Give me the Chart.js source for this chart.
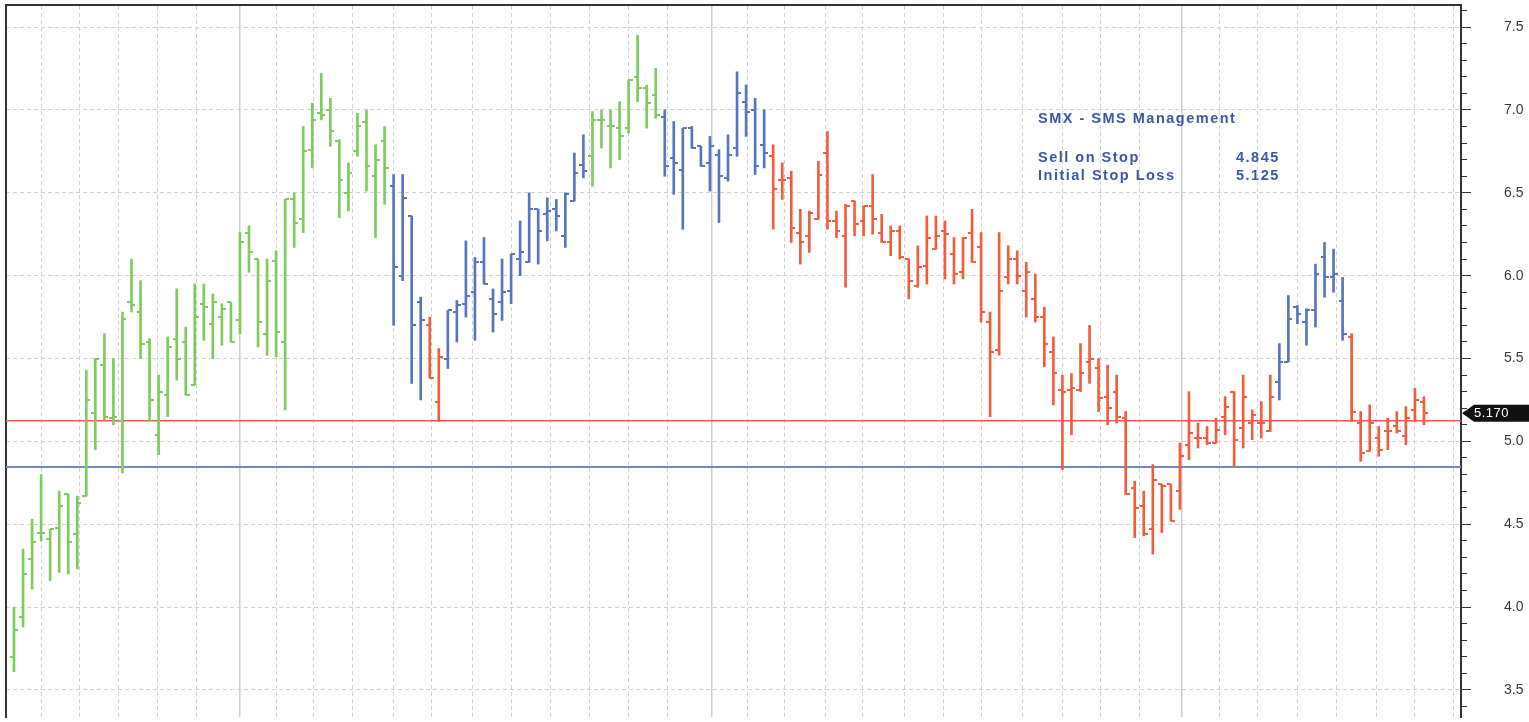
<!DOCTYPE html>
<html>
<head>
<meta charset="utf-8">
<title>SMX - SMS Management</title>
<script src="https://cdn.jsdelivr.net/npm/chart.js@4.4.1/dist/chart.umd.min.js"></script>
<style>
  html, body { margin: 0; padding: 0; background: #fff; overflow: hidden; }
  #wrap { width: 1529px; height: 722px; }
</style>
</head>
<body>
<div id="wrap"><canvas id="chart" width="1529" height="722"></canvas></div>
<script>
// Daily OHLC bars (index 0 = first visible bar)
const opens = [
  3.70, 3.94, 4.29, 4.45, 4.41, 4.48, 4.68, 4.44, 4.67, 5.17,
  5.46, 5.14, 5.12, 5.84, 5.78, 5.60, 5.04, 5.28, 5.62, 5.60,
  5.34, 5.83, 5.71, 5.75, 5.84, 5.73, 6.26, 6.10, 5.65, 6.09,
  5.60, 6.46, 6.34, 6.76, 6.98, 7.00, 6.81, 6.50, 6.75, 6.93,
  6.60, 6.81, 6.54, 6.00, 6.36, 5.84, 5.70, 5.24, 5.50, 5.78,
  5.83, 5.90, 6.08, 5.86, 5.84, 5.91, 6.10, 6.08, 6.40, 6.37,
  6.40, 6.24, 6.45, 6.67, 6.72, 6.94, 6.90, 6.89, 6.89, 7.20,
  7.13, 7.09, 6.96, 6.71, 6.64, 6.89, 6.78, 6.68, 6.73, 6.59,
  6.77, 7.05, 7.00, 6.79, 6.72, 6.58, 6.59, 6.26, 6.24, 6.34,
  6.74, 6.33, 6.24, 6.45, 6.33, 6.42, 6.26, 6.20, 6.27, 6.10,
  5.94, 6.06, 6.16, 6.27, 6.13, 6.02, 6.26, 6.17, 5.72, 5.55,
  5.99, 6.10, 5.91, 5.86, 5.75, 5.54, 5.31, 5.31, 5.31, 5.48,
  5.44, 5.27, 5.30, 5.14, 4.72, 4.61, 4.47, 4.74, 4.74, 4.70,
  4.98, 5.02, 5.02, 4.99, 5.15, 5.30, 5.08, 5.11, 5.11, 5.06,
  5.36, 5.48, 5.81, 5.72, 5.79, 6.11, 5.99, 5.85, 5.63, 5.11,
  4.94, 5.02, 5.06, 5.09, 5.03, 5.19, 5.24
];
const highs = [
  4.00, 4.35, 4.53, 4.80, 4.47, 4.70, 4.68, 4.67, 5.43, 5.50,
  5.65, 5.50, 5.78, 6.10, 5.97, 5.62, 5.40, 5.63, 5.92, 5.69,
  5.95, 5.95, 5.89, 5.83, 5.84, 6.26, 6.30, 6.10, 6.10, 6.15,
  6.46, 6.50, 6.90, 7.04, 7.22, 7.07, 6.82, 6.68, 6.98, 7.00,
  6.79, 6.90, 6.61, 6.61, 6.36, 5.87, 5.75, 5.56, 5.79, 5.85,
  6.21, 6.11, 6.23, 5.92, 6.10, 6.13, 6.33, 6.50, 6.40, 6.47,
  6.46, 6.50, 6.74, 6.85, 6.99, 7.00, 7.00, 7.05, 7.18, 7.45,
  7.15, 7.25, 7.00, 6.93, 6.89, 6.90, 6.78, 6.84, 6.76, 6.85,
  7.23, 7.15, 7.07, 7.00, 6.79, 6.68, 6.63, 6.40, 6.39, 6.69,
  6.87, 6.39, 6.43, 6.45, 6.42, 6.61, 6.37, 6.30, 6.30, 6.10,
  6.18, 6.36, 6.36, 6.33, 6.23, 6.23, 6.40, 6.26, 5.78, 6.26,
  6.18, 6.15, 6.08, 6.01, 5.81, 5.63, 5.40, 5.41, 5.59, 5.70,
  5.50, 5.46, 5.40, 5.18, 4.76, 4.70, 4.86, 4.74, 4.74, 4.99,
  5.30, 5.11, 5.09, 5.14, 5.27, 5.30, 5.40, 5.19, 5.24, 5.40,
  5.59, 5.88, 5.82, 5.80, 6.07, 6.20, 6.16, 5.99, 5.65, 5.18,
  5.22, 5.09, 5.14, 5.18, 5.21, 5.32, 5.27
];
const lows = [
  3.61, 3.88, 4.11, 4.40, 4.16, 4.21, 4.20, 4.23, 4.67, 4.95,
  5.13, 5.10, 4.81, 5.78, 5.50, 5.12, 4.92, 5.15, 5.37, 5.28,
  5.34, 5.61, 5.50, 5.58, 5.60, 5.65, 6.02, 5.57, 5.52, 5.51,
  5.19, 6.17, 6.26, 6.65, 6.94, 6.78, 6.35, 6.39, 6.72, 6.51,
  6.23, 6.43, 5.70, 5.97, 5.35, 5.25, 5.38, 5.12, 5.44, 5.60,
  5.75, 5.61, 5.95, 5.66, 5.73, 5.83, 6.00, 6.08, 6.07, 6.21,
  6.27, 6.17, 6.45, 6.59, 6.54, 6.77, 6.65, 6.70, 6.86, 7.05,
  6.89, 6.95, 6.60, 6.49, 6.28, 6.77, 6.66, 6.51, 6.32, 6.57,
  6.72, 6.84, 6.61, 6.65, 6.28, 6.46, 6.20, 6.07, 6.14, 6.34,
  6.28, 6.23, 5.93, 6.24, 6.24, 6.25, 6.20, 6.12, 6.10, 5.86,
  5.93, 5.95, 6.16, 5.98, 5.95, 5.98, 6.08, 5.72, 5.15, 5.52,
  5.95, 5.95, 5.75, 5.72, 5.45, 5.22, 4.83, 5.04, 5.30, 5.35,
  5.18, 5.10, 5.11, 4.68, 4.42, 4.43, 4.32, 4.45, 4.52, 4.59,
  4.89, 4.96, 4.98, 4.99, 5.04, 4.85, 4.96, 5.01, 5.02, 5.06,
  5.25, 5.48, 5.71, 5.58, 5.69, 5.87, 5.90, 5.61, 5.12, 4.88,
  4.94, 4.91, 4.95, 5.05, 4.98, 5.12, 5.10
];
const closes = [
  3.86, 4.20, 4.39, 4.45, 4.47, 4.61, 4.39, 4.63, 5.25, 5.50,
  5.15, 5.15, 5.74, 5.82, 5.59, 5.25, 5.30, 5.57, 5.50, 5.28,
  5.75, 5.81, 5.84, 5.80, 5.60, 6.20, 6.14, 5.72, 5.97, 5.66,
  6.46, 6.32, 6.75, 6.94, 6.97, 6.87, 6.58, 6.62, 6.90, 6.66,
  6.70, 6.65, 6.05, 6.47, 5.70, 5.73, 5.38, 5.51, 5.79, 5.82,
  5.88, 6.08, 5.95, 5.77, 5.90, 6.13, 6.14, 6.40, 6.27, 6.39,
  6.36, 6.49, 6.62, 6.63, 6.94, 6.94, 6.90, 6.84, 7.18, 7.13,
  7.04, 6.97, 6.66, 6.68, 6.89, 6.77, 6.66, 6.78, 6.60, 6.73,
  7.10, 6.99, 6.66, 6.74, 6.52, 6.58, 6.29, 6.20, 6.38, 6.61,
  6.33, 6.27, 6.42, 6.31, 6.42, 6.34, 6.20, 6.27, 6.11, 5.97,
  6.05, 6.23, 6.24, 6.25, 6.01, 6.23, 6.08, 5.78, 5.54, 5.91,
  6.10, 6.00, 6.02, 5.75, 5.59, 5.41, 5.30, 5.32, 5.41, 5.50,
  5.26, 5.20, 5.15, 4.68, 4.60, 4.44, 4.77, 4.73, 4.52, 4.91,
  5.05, 5.02, 4.99, 5.07, 5.21, 5.01, 5.27, 5.16, 5.11, 5.27,
  5.48, 5.74, 5.77, 5.79, 6.01, 5.99, 6.01, 5.65, 5.18, 4.93,
  5.11, 4.95, 5.06, 5.06, 5.14, 5.25, 5.17
];

// colour runs of the bars: [number of bars, state]
const trendRuns = [[42, 'buy'], [4, 'hold'], [2, 'sell'], [16, 'hold'], [8, 'buy'],
                   [12, 'hold'], [56, 'sell'], [8, 'hold'], [9, 'sell']];

const sellOnStop = 4.845;
const initialStopLoss = 5.125;
const lastPrice = 5.170;

// right axis: minor ticks every 0.1, labels on the half points
const yTickValues = [3.4, 3.5, 3.6, 3.7, 3.8, 3.9, 4.0, 4.1, 4.2, 4.3, 4.4, 4.5, 4.6, 4.7, 4.8, 4.9,
                     5.0, 5.1, 5.2, 5.3, 5.4, 5.5, 5.6, 5.7, 5.8, 5.9, 6.0, 6.1, 6.2, 6.3, 6.4, 6.5,
                     6.6, 6.7, 6.8, 6.9, 7.0, 7.1, 7.2, 7.3, 7.4, 7.5, 7.6];
const yTickLabels = ['3.5', '4.0', '4.5', '5.0', '5.5', '6.0', '6.5', '7.0', '7.5'];

// vertical grid lines (in bar units); the solid ones mark period breaks
const xGridLines = [3.0, 7.2, 11.6, 15.9, 20.2, 25.0, 29.0, 33.1, 37.5, 42.0, 46.2, 50.7,
                    55.1, 59.4, 63.7, 68.0, 72.3, 77.2, 81.2, 85.2, 89.8, 93.9, 98.5, 102.8,
                    107.1, 111.6, 116.0, 120.2, 124.5, 129.2, 133.4, 137.6, 142.0, 146.3,
                    150.8, 155.0, 159.3];
const xPeriodLines = [25.0, 77.2, 129.2];

const X_MIN = -0.885, X_MAX = 160.1;
const Y_MIN = 3.337, Y_MAX = 7.633;

const COLORS = { buy: '#80CB5F', hold: '#5A75C0', sell: '#F25D3E' };

const barState = [];
trendRuns.forEach(([n, s]) => { for (let k = 0; k < n; k++) barState.push(s); });

function tickImage(color, side) {
    const c = document.createElement('canvas');
    c.width = 8; c.height = 2;
    const g = c.getContext('2d');
    g.fillStyle = color;
    g.fillRect(side === 'open' ? 0 : 4, 0, 4, 2);
    return c;
}
const openImg = {}, closeImg = {};
Object.keys(COLORS).forEach(k => {
    openImg[k] = tickImage(COLORS[k], 'open');
    closeImg[k] = tickImage(COLORS[k], 'close');
});

const isMajor = v => Math.abs(v * 2 - Math.round(v * 2)) < 1e-6;
const isPeriod = v => xPeriodLines.some(p => Math.abs(p - v) < 1e-6);

// notes + last price tag
const notesPlugin = {
    id: 'notes',
    afterDraw(chart) {
        const ctx = chart.ctx;
        const area = chart.chartArea;
        ctx.save();
        ctx.fillStyle = '#3B57A8';
        ctx.font = 'bold 14.5px "Liberation Sans", Arial, sans-serif';
        ctx.letterSpacing = '1.5px';
        ctx.textBaseline = 'middle';
        ctx.fillText('SMX - SMS Management', 1038, 119);
        ctx.fillText('Sell on Stop', 1038, 158);
        ctx.fillText(sellOnStop.toFixed(3), 1236, 158);
        ctx.fillText('Initial Stop Loss', 1038, 176);
        ctx.fillText(initialStopLoss.toFixed(3), 1236, 176);
        ctx.restore();

        // price tag on the right axis
        const y = chart.scales.y.getPixelForValue(lastPrice);
        const x0 = area.right + 1;
        ctx.save();
        ctx.fillStyle = '#111';
        ctx.beginPath();
        ctx.moveTo(x0, y);
        ctx.lineTo(x0 + 12, y - 8.5);
        ctx.lineTo(chart.width, y - 8.5);
        ctx.lineTo(chart.width, y + 8.5);
        ctx.lineTo(x0 + 12, y + 8.5);
        ctx.closePath();
        ctx.fill();
        ctx.fillStyle = '#fff';
        ctx.font = '13px "Liberation Sans", Arial, sans-serif';
        ctx.letterSpacing = '0.5px';
        ctx.textBaseline = 'middle';
        ctx.fillText(lastPrice.toFixed(3), x0 + 12, y + 0.5);
        ctx.restore();
    }
};

new Chart(document.getElementById('chart'), {
    type: 'bar',
    data: {
        datasets: [
            {
                type: 'line', label: 'Initial Stop Loss', yAxisID: 'y',
                data: [{ x: X_MIN, y: initialStopLoss }, { x: X_MAX, y: initialStopLoss }],
                borderColor: '#EE5858', borderWidth: 1.5, pointRadius: 0, order: 4
            },
            {
                type: 'line', label: 'Sell on Stop', yAxisID: 'y',
                data: [{ x: X_MIN, y: sellOnStop }, { x: X_MAX, y: sellOnStop }],
                borderColor: '#7188C6', borderWidth: 2, pointRadius: 0, order: 4
            },
            {
                type: 'bar', label: 'Range', yAxisID: 'y',
                data: highs.map((h, i) => ({ x: i, y: [lows[i], h] })),
                backgroundColor: barState.map(s => COLORS[s]),
                borderWidth: 0, barThickness: 2, grouped: false, order: 3
            },
            {
                type: 'line', label: 'Open', showLine: false, yAxisID: 'y',
                data: opens.map((o, i) => ({ x: i, y: o })),
                pointStyle: ctx => ctx.dataIndex === undefined ? 'line' : openImg[barState[ctx.dataIndex]],
                pointRadius: 4, order: 2
            },
            {
                type: 'line', label: 'Close', showLine: false, yAxisID: 'y',
                data: closes.map((c, i) => ({ x: i, y: c })),
                pointStyle: ctx => ctx.dataIndex === undefined ? 'line' : closeImg[barState[ctx.dataIndex]],
                pointRadius: 4, order: 1
            }
        ]
    },
    options: {
        responsive: false,
        animation: false,
        events: [],
        devicePixelRatio: 1,
        layout: { padding: { left: 6, top: 2, right: 3, bottom: 0 } },
        plugins: { legend: { display: false }, tooltip: { enabled: false } },
        scales: {
            x: {
                type: 'linear', position: 'top', min: X_MIN, max: X_MAX, offset: false,
                afterBuildTicks: axis => { axis.ticks = xGridLines.map(v => ({ value: v })); },
                ticks: { display: false },
                grid: {
                    offset: false, drawTicks: false,
                    color: ctx => ctx.tick && isPeriod(ctx.tick.value) ? '#CFCFCF' : '#D2D2D2',
                    lineWidth: ctx => ctx.tick && isPeriod(ctx.tick.value) ? 1.5 : 1
                },
                border: {
                    display: true, color: '#333', width: 2,
                    dash: ctx => ctx.tick && isPeriod(ctx.tick.value) ? [] : [4, 3]
                }
            },
            y: {
                type: 'linear', position: 'right', min: Y_MIN, max: Y_MAX,
                afterBuildTicks: axis => { axis.ticks = yTickValues.map(v => ({ value: v })); },
                afterFit: axis => { axis.width = 65; axis.paddingTop = 0; axis.paddingBottom = 0; },
                ticks: {
                    autoSkip: false, padding: 33, color: '#3a3a3a',
                    font: { family: '"Liberation Sans", Arial, sans-serif', size: 14 },
                    callback: v => {
                        const lbl = v.toFixed(1);
                        return isMajor(v) && yTickLabels.includes(lbl) ? lbl : '';
                    }
                },
                grid: {
                    color: ctx => ctx.tick && isMajor(ctx.tick.value) ? '#D2D2D2' : 'rgba(0,0,0,0)',
                    tickLength: 10, tickWidth: 1, tickColor: '#333',
                    tickBorderDash: ctx => ctx.tick && isMajor(ctx.tick.value) ? [] : [5, 30]
                },
                border: { display: true, color: '#333', width: 2, dash: [4, 3] }
            },
            yLeft: {
                type: 'linear', position: 'left',
                ticks: { display: false },
                grid: { drawOnChartArea: false, drawTicks: false },
                border: { display: true, color: '#333', width: 2 }
            }
        }
    },
    plugins: [notesPlugin]
});
</script>
</body>
</html>
